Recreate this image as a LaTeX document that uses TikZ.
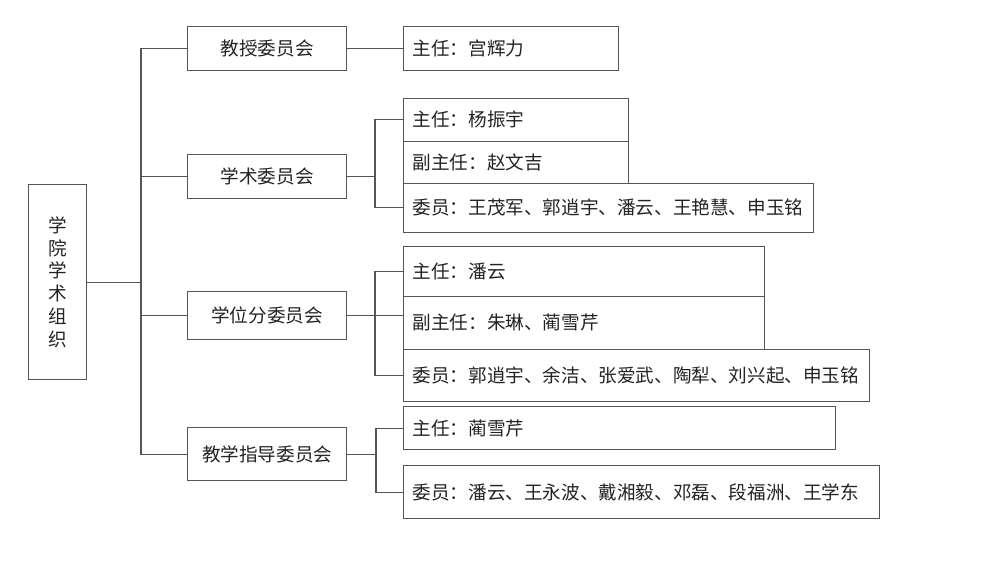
\documentclass[tikz,border=0pt]{standalone}
\usepackage{fontspec}
\newfontfamily\cjk{Noto Sans CJK SC}
\definecolor{linegray}{RGB}{85,85,85}
\definecolor{txt}{RGB}{35,35,35}
\tikzset{
  ln/.style={draw=linegray, line width=1.2pt},
  bx/.style={draw=linegray, line width=1.2pt, rectangle, inner ysep=0pt, inner xsep=9pt,
    text=txt, font=\cjk\fontsize{18.6}{22.8}\selectfont, anchor=north west},
  cbx/.style 2 args={bx, minimum width=#1, minimum height=#2, align=center},
  lbx/.style n args={3}{bx, minimum width=#1, minimum height=#2, text width=#3, align=left}
}
\begin{document}
\begin{tikzpicture}[x=1pt,y=-1pt]
\useasboundingbox (0,0) rectangle (1000,562);
% root
\node[cbx={58pt}{195pt}] (root) at (28,184) {学\\院\\学\\术\\组\\织};
% level 1
\node[cbx={159pt}{44pt}] (a1) at (187,26) {教授委员会};
\node[cbx={159pt}{44pt}] (b1) at (187,154) {学术委员会};
\node[cbx={159pt}{48.5pt}] (c1) at (187,290.5) {学位分委员会};
\node[cbx={159pt}{53pt}] (d1) at (187,427) {教学指导委员会};
% level 2
\node[lbx={215pt}{44pt}{197pt}] (a2) at (403,26) {主任：宫辉力};
\node[lbx={225pt}{42.5pt}{207pt}] (b2) at (403,98) {主任：杨振宇};
\node[lbx={225pt}{42pt}{207pt}] (b3) at (403,140.5) {副主任：赵文吉};
\node[lbx={410pt}{49.5pt}{392pt}] (b4) at (403,182.5) {委员：王茂军、郭逍宇、潘云、王艳慧、申玉铭};
\node[lbx={361pt}{50pt}{343pt}] (c2) at (403,245.5) {主任：潘云};
\node[lbx={361pt}{53pt}{343pt}] (c3) at (403,295.5) {副主任：朱琳、蔺雪芹};
\node[lbx={466pt}{52pt}{448pt}] (c4) at (403,348.5) {委员：郭逍宇、余洁、张爱武、陶犁、刘兴起、申玉铭};
\node[lbx={432pt}{43pt}{414pt}] (d2) at (403,406) {主任：蔺雪芹};
\node[lbx={476pt}{53pt}{458pt}] (d3) at (403,465) {委员：潘云、王永波、戴湘毅、邓磊、段福洲、王学东};
% trunk
\coordinate (tk) at (141,48);
\draw[ln] (root.east) -- (root.east -| tk);
\draw[ln] (a1.west) -- (a1.west -| tk) -- (tk |- d1.west) -- (d1.west);
\draw[ln] (tk |- b1.west) -- (b1.west);
\draw[ln] (tk |- c1.west) -- (c1.west);
% level 2 connectors
\coordinate (vb) at (375,0);
\coordinate (vd) at (376,0);
\draw[ln] (a1.east) -- (a2.west);
\draw[ln] (b1.east) -- (b1.east -| vb);
\draw[ln] (b2.west) -- (b2.west -| vb) -- (b4.west -| vb) -- (b4.west);
\draw[ln] (c1.east) -- (c1.east -| c3.west);
\draw[ln] (c2.west) -- (c2.west -| vb) -- (c4.west -| vb) -- (c4.west);
\draw[ln] (d1.east) -- (d1.east -| vd);
\draw[ln] (d2.west) -- (d2.west -| vd) -- (d3.west -| vd) -- (d3.west);
\end{tikzpicture}
\end{document}
